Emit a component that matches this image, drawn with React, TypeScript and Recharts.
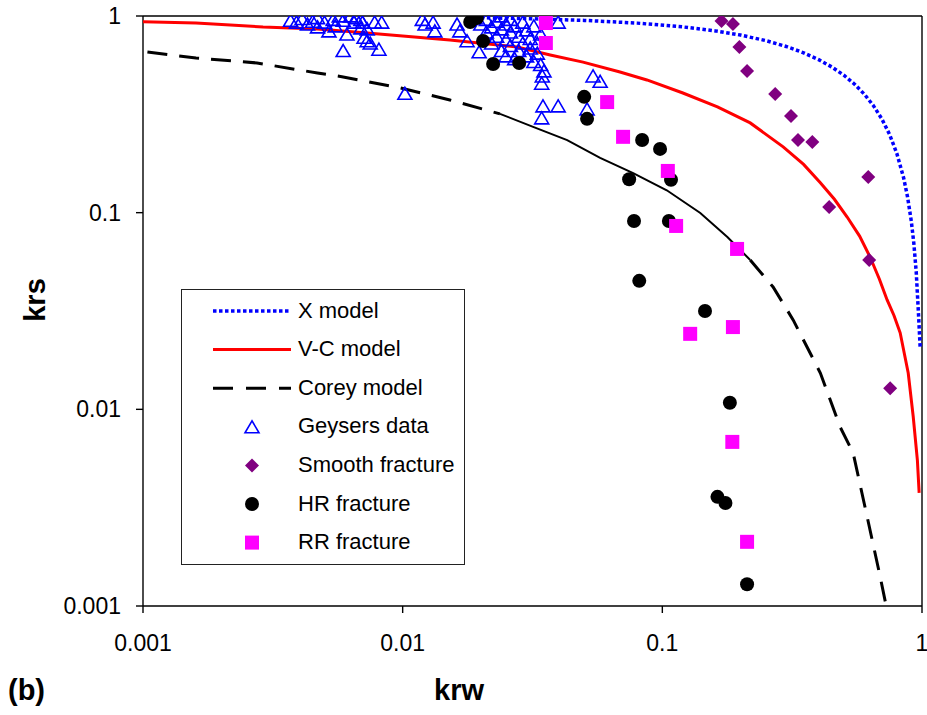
import React from 'react';
import { ScatterChart, Scatter, XAxis, YAxis, ReferenceLine } from 'recharts';

// model curves (krw, krs)
const xModelKrw = [0.02, 0.03, 0.05, 0.08, 0.12, 0.16, 0.2, 0.25, 0.3, 0.35, 0.4, 0.45, 0.5, 0.55, 0.6, 0.65, 0.7, 0.75, 0.8, 0.85, 0.88, 0.91, 0.93, 0.95, 0.97, 0.984];
const xModelKrs = [0.98, 0.97, 0.95, 0.92, 0.88, 0.84, 0.8, 0.75, 0.7, 0.65, 0.6, 0.55, 0.5, 0.45, 0.4, 0.35, 0.3, 0.25, 0.2, 0.15, 0.12, 0.09, 0.07, 0.05, 0.03, 0.0205];

const vcKrw = [0.001, 0.0016, 0.0029, 0.0047, 0.0073, 0.0152, 0.0276, 0.037, 0.0495, 0.0687, 0.0872, 0.12, 0.163, 0.218, 0.292, 0.35, 0.406, 0.46, 0.515, 0.575, 0.631, 0.685, 0.734, 0.78, 0.824, 0.885, 0.925, 0.96, 0.975];
const vcKrs = [0.936, 0.921, 0.879, 0.859, 0.82, 0.755, 0.696, 0.634, 0.583, 0.519, 0.473, 0.406, 0.345, 0.286, 0.216, 0.176, 0.142, 0.117, 0.095, 0.076, 0.0595, 0.046, 0.036, 0.03, 0.0245, 0.0153, 0.0092, 0.0055, 0.00376];

const coreyKrw = [0.00104, 0.0016, 0.00275, 0.0047, 0.0059, 0.0098, 0.0152, 0.0237, 0.0318, 0.043, 0.0576, 0.0772, 0.104, 0.14, 0.178, 0.218, 0.267, 0.319, 0.406, 0.484, 0.543, 0.615, 0.69, 0.728];
const coreyKrs = [0.656, 0.612, 0.577, 0.513, 0.49, 0.431, 0.374, 0.318, 0.273, 0.234, 0.19, 0.159, 0.13, 0.0997, 0.0752, 0.0575, 0.0419, 0.0285, 0.0153, 0.00813, 0.006, 0.00284, 0.00141, 0.001];

// measured data
const geysersKrw = [0.0037, 0.0039, 0.0041, 0.0043, 0.0045, 0.0047, 0.0047, 0.005, 0.0052, 0.0054, 0.0055, 0.0057, 0.0059, 0.0059, 0.0061, 0.0063, 0.0065, 0.0066, 0.0069, 0.0069, 0.007, 0.0071, 0.0073, 0.0073, 0.0075, 0.0078, 0.0081, 0.0083,
  0.0102, 0.0119, 0.0122, 0.0131, 0.0133, 0.0162, 0.0166, 0.0177,
  0.019, 0.0197, 0.02, 0.021, 0.021, 0.022, 0.022, 0.023, 0.023, 0.024, 0.024, 0.024, 0.025, 0.025, 0.025, 0.026, 0.026, 0.026, 0.027, 0.027, 0.028, 0.028, 0.029, 0.029, 0.03, 0.03, 0.031, 0.031, 0.032, 0.032, 0.033, 0.033, 0.034, 0.034, 0.035, 0.0345, 0.0343, 0.0347, 0.0343, 0.0397, 0.0397, 0.0513, 0.0541, 0.0576];
const geysersKrs = [0.94, 0.92, 0.96, 0.9, 0.93, 0.97, 0.87, 0.92, 0.83, 0.95, 0.88, 0.99, 0.94, 0.66, 0.8, 0.99, 0.92, 0.97, 0.95, 0.86, 0.92, 0.77, 0.85, 0.74, 0.72, 0.92, 0.67, 0.92,
  0.4, 0.95, 0.9, 0.92, 0.83, 0.9, 0.83, 0.74,
  0.97, 0.65, 0.9, 0.82, 0.95, 0.87, 0.72, 0.93, 0.78, 0.99, 0.85, 0.66, 0.9, 0.75, 0.62, 0.95, 0.82, 0.7, 0.88, 0.6, 0.78, 0.66, 0.92, 0.72, 0.84, 0.62, 0.76, 0.68, 0.88, 0.58, 0.72, 0.64, 0.8, 0.56, 0.52, 0.49, 0.45, 0.345, 0.3, 0.345, 0.92, 0.333, 0.49, 0.46];

const smoothKrw = [0.169, 0.187, 0.198, 0.212, 0.272, 0.313, 0.333, 0.378, 0.621, 0.439, 0.626, 0.754];
const smoothKrs = [0.944, 0.91, 0.696, 0.525, 0.401, 0.31, 0.234, 0.229, 0.152, 0.107, 0.0575, 0.0128];

const hrKrw = [0.0182, 0.0193, 0.0204, 0.0223, 0.0281, 0.05, 0.0513, 0.0836, 0.098, 0.0745, 0.108, 0.0778, 0.106, 0.0815, 0.146, 0.182, 0.163, 0.175, 0.212];
const hrKrs = [0.932, 0.977, 0.746, 0.57, 0.577, 0.388, 0.3, 0.234, 0.211, 0.148, 0.147, 0.0907, 0.0907, 0.045, 0.0316, 0.0108, 0.00359, 0.00334, 0.00129];

const rrKrw = [0.0356, 0.0356, 0.0613, 0.0706, 0.105, 0.113, 0.194, 0.187, 0.128, 0.186, 0.212];
const rrKrs = [0.921, 0.729, 0.365, 0.243, 0.163, 0.0856, 0.0654, 0.0262, 0.0242, 0.00683, 0.00212];

const ticks = [0.001, 0.01, 0.1, 1];

const pts = (xs: number[], ys: number[]) => xs.map((x, i) => ({ x, y: ys[i] }));

const xModel = pts(xModelKrw, xModelKrs);
const vcModel = pts(vcKrw, vcKrs);
const corey = pts(coreyKrw, coreyKrs);
// the Corey curve looks solid in the middle where its points are dense
const coreyLeft = corey.filter((p) => p.x <= 0.0237);
const coreyMid = corey.filter((p) => p.x >= 0.0237 && p.x <= 0.218);
const coreyRight = corey.filter((p) => p.x >= 0.218);
const geysers = pts(geysersKrw, geysersKrs);
const smooth = pts(smoothKrw, smoothKrs);
const hr = pts(hrKrw, hrKrs);
const rr = pts(rrKrw, rrKrs);

const FONT = '"Liberation Sans", Arial, sans-serif';
const BLUE = '#0000ff';
const RED = '#ff0000';
const PURPLE = '#800080';
const MAGENTA = '#ff00ff';

const NoDot = () => <g />;

const Triangle = (p: any) => (
  <path
    d={`M${p.cx},${p.cy - 7} L${p.cx - 7},${p.cy + 5} L${p.cx + 7},${p.cy + 5} Z`}
    fill="none"
    stroke={BLUE}
    strokeWidth={1.6}
  />
);
const Diamond = (p: any) => (
  <path
    d={`M${p.cx},${p.cy - 7} L${p.cx + 7},${p.cy} L${p.cx},${p.cy + 7} L${p.cx - 7},${p.cy} Z`}
    fill={PURPLE}
  />
);
const Dot = (p: any) => <circle cx={p.cx} cy={p.cy} r={7} fill="#000" />;
const Square = (p: any) => <rect x={p.cx - 7} y={p.cy - 7} width={14} height={14} fill={MAGENTA} />;

function LegendBox() {
  const rowY = (i: number) => 22 + i * 38.6;
  const textStyle: React.CSSProperties = {
    position: 'absolute',
    left: 116,
    fontSize: 22,
    fontFamily: FONT,
    lineHeight: '24px',
    whiteSpace: 'nowrap',
    color: '#000'
  };
  const labels = ['X model', 'V-C model', 'Corey model', 'Geysers data', 'Smooth fracture', 'HR fracture', 'RR fracture'];
  return (
    <div
      style={{
        position: 'absolute',
        left: 181,
        top: 289,
        width: 284,
        height: 276,
        border: '1.5px solid #222',
        background: '#fff',
        boxSizing: 'border-box'
      }}
    >
      <svg width={284} height={276} style={{ position: 'absolute', left: -1.5, top: -1.5 }}>
        <line x1={32} x2={110} y1={rowY(0)} y2={rowY(0)} stroke={BLUE} strokeWidth={3.5} strokeDasharray="3.5 2.5" />
        <line x1={32} x2={110} y1={rowY(1)} y2={rowY(1)} stroke={RED} strokeWidth={3} />
        <line x1={32} x2={110} y1={rowY(2)} y2={rowY(2)} stroke="#000" strokeWidth={3} strokeDasharray="20 13" />
        <Triangle cx={71} cy={rowY(3) + 1} />
        <Diamond cx={71} cy={rowY(4)} />
        <Dot cx={71} cy={rowY(5)} />
        <Square cx={71} cy={rowY(6)} />
      </svg>
      {labels.map((l, i) => (
        <div key={l} style={{ ...textStyle, top: rowY(i) - 13.5 }}>
          {l}
        </div>
      ))}
    </div>
  );
}

export default function App() {
  const tickStyle = { fill: '#000', fontSize: 23, fontFamily: FONT };
  const title: React.CSSProperties = {
    position: 'absolute',
    fontFamily: FONT,
    fontWeight: 'bold',
    fontSize: 29,
    color: '#000',
    whiteSpace: 'nowrap'
  };
  return (
    <div style={{ position: 'absolute', left: 0, top: 0, width: 927, height: 715, background: '#fff' }}>
      <ScatterChart width={927} height={715} margin={{ top: 16, right: 5, bottom: 0, left: 0 }}>
        <XAxis
          type="number"
          dataKey="x"
          scale="log"
          domain={[0.001, 1]}
          ticks={ticks}
          interval={0}
          allowDataOverflow
          height={109}
          tickSize={7}
          tickMargin={22}
          tick={tickStyle}
          tickFormatter={(v) => String(v)}
          axisLine={{ stroke: '#000', strokeWidth: 1.4 }}
          tickLine={{ stroke: '#000', strokeWidth: 1.4 }}
        />
        <YAxis
          type="number"
          dataKey="y"
          scale="log"
          domain={[0.001, 1]}
          ticks={ticks}
          interval={0}
          allowDataOverflow
          width={143}
          tickSize={7}
          tickMargin={15}
          tick={tickStyle}
          tickFormatter={(v) => String(v)}
          axisLine={{ stroke: '#000', strokeWidth: 1.4 }}
          tickLine={{ stroke: '#000', strokeWidth: 1.4 }}
        />
        <ReferenceLine y={1} stroke="#000" strokeWidth={1.4} />
        <ReferenceLine x={1} stroke="#000" strokeWidth={1.4} />
        <Scatter data={xModel} shape={NoDot} isAnimationActive={false} line={{ stroke: BLUE, strokeWidth: 3.5, strokeDasharray: '3.5 2.5' }} />
        <Scatter data={vcModel} shape={NoDot} isAnimationActive={false} line={{ stroke: RED, strokeWidth: 3 }} />
        <Scatter data={coreyLeft} shape={NoDot} isAnimationActive={false} line={{ stroke: '#000', strokeWidth: 3, strokeDasharray: '20 12' }} />
        <Scatter data={coreyMid} shape={NoDot} isAnimationActive={false} line={{ stroke: '#000', strokeWidth: 2 }} />
        <Scatter data={coreyRight} shape={NoDot} isAnimationActive={false} line={{ stroke: '#000', strokeWidth: 3, strokeDasharray: '20 12' }} />
        <Scatter data={geysers} shape={Triangle} isAnimationActive={false} />
        <Scatter data={smooth} shape={Diamond} isAnimationActive={false} />
        <Scatter data={hr} shape={Dot} isAnimationActive={false} />
        <Scatter data={rr} shape={Square} isAnimationActive={false} />
      </ScatterChart>
      <LegendBox />
      <div style={{ ...title, left: 35, top: 300, transform: 'translate(-50%, -50%) rotate(-90deg)' }}>krs</div>
      <div style={{ ...title, left: 459, top: 690, transform: 'translate(-50%, -50%)' }}>krw</div>
      <div style={{ ...title, left: 8, top: 690, transform: 'translate(0, -50%)' }}>(b)</div>
    </div>
  );
}
